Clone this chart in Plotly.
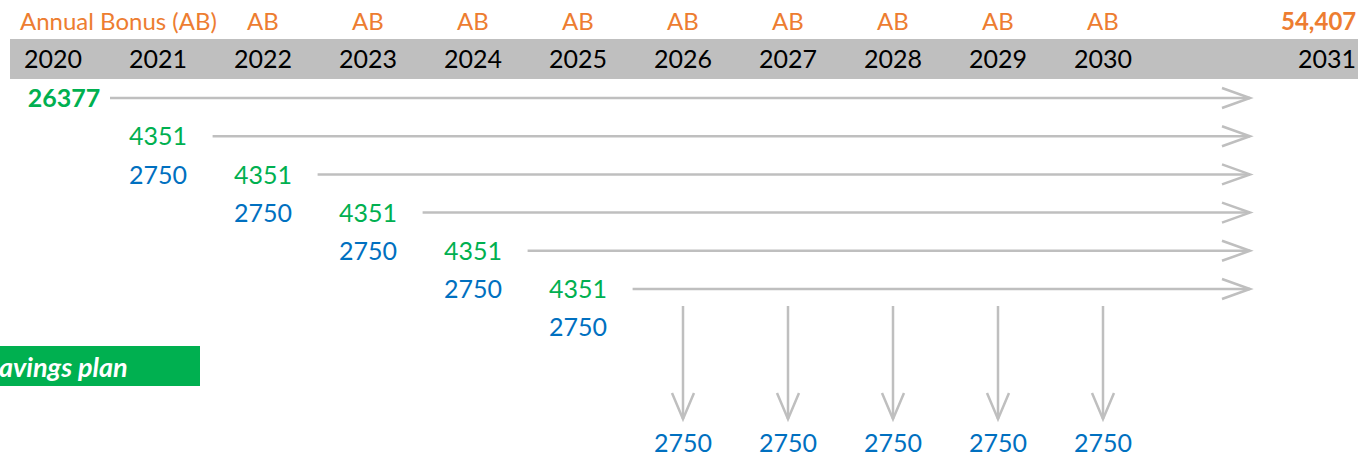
import plotly.graph_objects as go

# ---------------- data ----------------
years = [2020, 2021, 2022, 2023, 2024, 2025, 2026, 2027, 2028, 2029, 2030, 2031]
ab_header_years = [2021, 2022, 2023, 2024, 2025, 2026, 2027, 2028, 2029, 2030]
ab_header_labels = ["Annual Bonus (AB)", "AB", "AB", "AB", "AB", "AB", "AB", "AB", "AB", "AB"]
total_label = "54,407"

lump_sum_year = 2020
lump_sum_value = 26377

contrib_years = [2021, 2022, 2023, 2024, 2025]
contrib_values = [4351, 4351, 4351, 4351, 4351]

bonus_years = [2021, 2022, 2023, 2024, 2025]
bonus_values = [2750, 2750, 2750, 2750, 2750]

payout_years = [2026, 2027, 2028, 2029, 2030]
payout_values = [2750, 2750, 2750, 2750, 2750]

box_label = "avings plan"

# ---------------- style ----------------
ORANGE = "#ED7D31"
GREEN = "#00B050"
BLUE = "#0070C0"
GREY = "#BFBFBF"
FONT = "Lato"
FS = 25

W, H = 1358, 456
X0_PX, X_STEP = 53, 105          # pixel centre of first year column and column spacing
Y0_PX, Y_STEP = 98, 38.2         # pixel centre of first row and row spacing
TXT = 3 / Y_STEP                 # small vertical nudge for scatter text

def xi(year):
    return year - years[0]

def xp(px):
    return (px - X0_PX) / X_STEP

def yp(px):
    return (px - Y0_PX) / Y_STEP

fig = go.Figure()
shapes = []
annotations = []

# header band
shapes.append(dict(type="rect", xref="x", yref="y", x0=xp(10), x1=xp(W + 5),
                   y0=yp(39), y1=yp(79), fillcolor=GREY, line_width=0, layer="below"))

# year labels in band
fig.add_trace(go.Scatter(x=[xi(y) for y in years[:-1]], y=[yp(59) + TXT] * (len(years) - 1),
                         mode="text", text=[str(y) for y in years[:-1]],
                         textfont=dict(family=FONT, size=FS, color="black"),
                         hoverinfo="skip", showlegend=False))
annotations.append(dict(x=1, xref="paper", y=yp(58), yref="y", xanchor="right",
                        yanchor="middle", text=str(years[-1]), showarrow=False,
                        font=dict(family=FONT, size=FS, color="black")))

# AB header labels
for yr, lab in zip(ab_header_years, ab_header_labels):
    if lab == "AB":
        annotations.append(dict(x=xi(yr), y=yp(20), xref="x", yref="y", text=lab,
                                showarrow=False, font=dict(family=FONT, size=FS - 1, color=ORANGE)))
    else:
        annotations.append(dict(x=xp(219), y=yp(20), xref="x", yref="y", text=lab, xanchor="right",
                                showarrow=False, font=dict(family=FONT, size=FS - 1, color=ORANGE)))
annotations.append(dict(x=1, xref="paper", y=yp(20), yref="y", xanchor="right", text="<b>" + total_label + "</b>",
                        showarrow=False, font=dict(family=FONT, size=FS - 1, color=ORANGE)))

# lump sum
fig.add_trace(go.Scatter(x=[xp(64)], y=[0 + TXT], mode="text", text=["<b>%d</b>" % lump_sum_value],
                         textfont=dict(family=FONT, size=FS, color=GREEN),
                         hoverinfo="skip", showlegend=False))

# contributions (row r = index+1) and bonus (row r = index+2)
fig.add_trace(go.Scatter(x=[xi(y) for y in contrib_years], y=[r + TXT for r in range(1, len(contrib_years) + 1)],
                         mode="text", text=[str(v) for v in contrib_values],
                         textfont=dict(family=FONT, size=FS, color=GREEN),
                         hoverinfo="skip", showlegend=False))
fig.add_trace(go.Scatter(x=[xi(y) for y in bonus_years], y=[r + TXT for r in range(2, len(bonus_years) + 2)],
                         mode="text", text=[str(v) for v in bonus_values],
                         textfont=dict(family=FONT, size=FS, color=BLUE),
                         hoverinfo="skip", showlegend=False))

# payouts
fig.add_trace(go.Scatter(x=[xi(y) for y in payout_years], y=[yp(446)] * len(payout_years),
                         mode="text", text=[str(v) for v in payout_values],
                         textfont=dict(family=FONT, size=FS, color=BLUE),
                         hoverinfo="skip", showlegend=False))

# horizontal arrows
end_x = xp(1250)
head_dx = 28 / X_STEP
head_dy = 10 / Y_STEP
starts = [xp(110)] + [xi(y) + 0.52 for y in contrib_years]
for r, sx in enumerate(starts):
    shapes.append(dict(type="line", xref="x", yref="y", x0=sx, x1=end_x, y0=r, y1=r,
                       line=dict(color=GREY, width=2.5)))
    shapes.append(dict(type="path", xref="x", yref="y",
                       path="M %f %f L %f %f L %f %f" % (end_x - head_dx, r - head_dy, end_x, r,
                                                         end_x - head_dx, r + head_dy),
                       line=dict(color=GREY, width=2.5)))

# vertical arrows
top_y, tip_y = yp(306), yp(419)
vdx = 11 / X_STEP
vdy = 26 / Y_STEP
for yr in payout_years:
    x = xi(yr)
    shapes.append(dict(type="line", xref="x", yref="y", x0=x, x1=x, y0=top_y, y1=tip_y,
                       line=dict(color=GREY, width=2.5)))
    shapes.append(dict(type="path", xref="x", yref="y",
                       path="M %f %f L %f %f L %f %f" % (x - vdx, tip_y - vdy, x, tip_y, x + vdx, tip_y - vdy),
                       line=dict(color=GREY, width=2.5)))

# green box
shapes.append(dict(type="rect", xref="x", yref="y", x0=xp(-5), x1=xp(200), y0=yp(346), y1=yp(386),
                   fillcolor=GREEN, line_width=0, layer="below"))
annotations.append(dict(x=-3 / W, xref="paper", y=yp(366), yref="y", xanchor="left", text="<b><i>" + box_label + "</i></b>",
                        showarrow=False, font=dict(family=FONT, size=FS + 2, color="white")))

fig.update_layout(
    width=W, height=H, margin=dict(l=0, r=0, t=0, b=0),
    paper_bgcolor="white", plot_bgcolor="white",
    xaxis=dict(range=[xp(0), xp(W)], visible=False, fixedrange=True),
    yaxis=dict(range=[yp(H), yp(0)], visible=False, fixedrange=True),
    shapes=shapes, annotations=annotations, showlegend=False,
)

fig.write_html("out.html", config={"displayModeBar": False},
               post_script="document.body.style.margin='0';")
